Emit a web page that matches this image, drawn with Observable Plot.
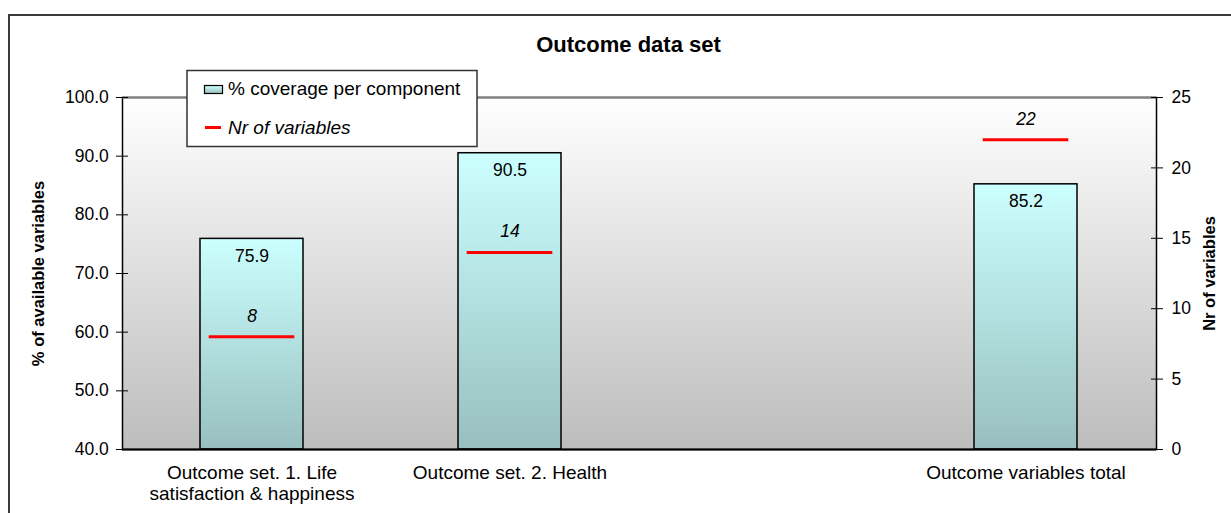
<!DOCTYPE html>
<html>
<head>
<meta charset="utf-8">
<script src="https://cdn.jsdelivr.net/npm/d3@7"></script>
<script src="https://cdn.jsdelivr.net/npm/@observablehq/plot@0.6"></script>
<style>
  body { margin: 0; background: #fff; }
  #wrap { position: relative; width: 1231px; height: 513px; overflow: hidden; font-family: "Liberation Sans", Arial, sans-serif; }
  #wrap > svg { position: absolute; left: 0; top: 0; }
  #outer { position: absolute; left: 8px; top: 14px; right: -10px; bottom: -10px; border-top: 2px solid #3a3a3a; border-left: 2px solid #3a3a3a; pointer-events: none; }
</style>
</head>
<body>
<div id="wrap"><div id="outer"></div></div>
<script>
// ---- data ----
const title = "Outcome data set";
const categories = ["Outcome set. 1. Life\nsatisfaction & happiness", "Outcome set. 2. Health", "", "Outcome variables total"];
const coverage = [75.9, 90.5, null, 85.2];      // % of available variables (left axis)
const nrVariables = [8, 14, null, 22];          // Nr of variables (right axis)
const pctTicks = [40, 50, 60, 70, 80, 90, 100];
const nrTicks = [0, 5, 10, 15, 20, 25];
const leftLabel = "% of available variables";
const rightLabel = "Nr of variables";
const legendLabels = ["% coverage per component", "Nr of variables"];

const pctDomain = [40, 100];
const nrDomain = [0, 25];
const toLeft = v => pctDomain[0] + (v - nrDomain[0]) * (pctDomain[1] - pctDomain[0]) / (nrDomain[1] - nrDomain[0]);
const fromLeft = p => nrDomain[0] + (p - pctDomain[0]) * (nrDomain[1] - nrDomain[0]) / (pctDomain[1] - pctDomain[0]);

const rows = categories.map((c, i) => ({cat: c, pct: coverage[i], nr: nrVariables[i]})).filter(d => d.pct != null);
const fmt1 = d3.format(".1f");

const plot = Plot.plot({
  width: 1231,
  height: 513,
  marginLeft: 122,
  marginRight: 75,
  marginTop: 97,
  marginBottom: 64,
  style: {fontFamily: "'Liberation Sans', Arial, sans-serif", fontSize: "17.5px", color: "#000", background: "transparent", overflow: "visible"},
  x: {domain: categories, paddingInner: 0.6, paddingOuter: 0.3, label: null},
  y: {domain: pctDomain, label: null},
  marks: [
    Plot.frame({fill: "url(#bgGrad)"}),
    Plot.barY(rows, {x: "cat", y1: pctDomain[0], y2: "pct", fill: "url(#barGrad)", stroke: "#000", strokeWidth: 1.5}),
    Plot.frame({stroke: "#000", strokeWidth: 1.5}),
    Plot.ruleY([pctDomain[1]], {stroke: "#808080", strokeWidth: 2}),
    Plot.ruleY([pctDomain[0]], {stroke: "#000", strokeWidth: 2}),
    Plot.text(rows, {x: "cat", y: "pct", text: d => fmt1(d.pct), lineAnchor: "bottom", dy: 23, fontSize: 17.5}),
    Plot.tickY(rows, {x: "cat", y: d => toLeft(d.nr), stroke: "#ff0000", strokeWidth: 3, insetLeft: 8.7, insetRight: 8.7}),
    Plot.text(rows, {x: "cat", y: d => toLeft(d.nr), text: d => String(d.nr), lineAnchor: "bottom", dy: -15, fontStyle: "italic", fontSize: 17.5}),
    Plot.axisY({anchor: "left", ticks: pctTicks, tickFormat: fmt1, tickSize: 12, dx: 6, tickPadding: 7.7, fontSize: 17.5, label: null}),
    Plot.axisY({anchor: "right", ticks: nrTicks.map(toLeft), tickFormat: d => String(Math.round(fromLeft(d))), tickSize: 12, dx: -6, tickPadding: 9, fontSize: 17.5, label: null}),
    Plot.axisX({tickSize: 0, tickPadding: 15, fontSize: 19, lineHeight: 1.1, label: null}),
    Plot.text([leftLabel], {frameAnchor: "left", dx: -84, rotate: -90, textAnchor: "middle", lineAnchor: "middle", fontWeight: "bold", fontSize: 16.5}),
    Plot.text([rightLabel], {frameAnchor: "right", dx: 53, rotate: -90, textAnchor: "middle", lineAnchor: "middle", fontWeight: "bold", fontSize: 16.5}),
    Plot.text([title], {frameAnchor: "top", dy: -46, dx: -11, lineAnchor: "bottom", fontWeight: "bold", fontSize: 22})
  ]
});

// gradients
const svg = d3.select(plot);
const defs = svg.insert("defs", ":first-child");
const bg = defs.append("linearGradient").attr("id", "bgGrad").attr("x1", 0).attr("y1", 0).attr("x2", 0).attr("y2", 1);
bg.append("stop").attr("offset", "0%").attr("stop-color", "#ffffff");
bg.append("stop").attr("offset", "100%").attr("stop-color", "#bdbdbd");
const bar = defs.append("linearGradient").attr("id", "barGrad").attr("x1", 0).attr("y1", 0).attr("x2", 0).attr("y2", 1);
bar.append("stop").attr("offset", "0%").attr("stop-color", "#ccffff");
bar.append("stop").attr("offset", "100%").attr("stop-color", "#98bfbf");

const wrap = document.getElementById("wrap");
wrap.insertBefore(plot, wrap.firstChild);

// legend
const leg = d3.select(wrap).append("svg")
  .attr("width", 1231).attr("height", 513)
  .style("font-family", "'Liberation Sans', Arial, sans-serif")
  .style("pointer-events", "none");
leg.append("rect").attr("x", 187).attr("y", 70.5).attr("width", 290).attr("height", 76)
  .attr("fill", "#fff").attr("stroke", "#333").attr("stroke-width", 1.5);
leg.append("rect").attr("x", 204.5).attr("y", 85.5).attr("width", 18).attr("height", 8)
  .attr("fill", "url(#barGrad)").attr("stroke", "#000").attr("stroke-width", 1.2);
leg.append("text").attr("x", 228).attr("y", 95).attr("font-size", 19).text(legendLabels[0]);
leg.append("line").attr("x1", 205).attr("x2", 221).attr("y1", 127.5).attr("y2", 127.5)
  .attr("stroke", "#ff0000").attr("stroke-width", 3);
leg.append("text").attr("x", 228).attr("y", 133.5).attr("font-size", 19).attr("font-style", "italic").text(legendLabels[1]);
</script>
</body>
</html>
